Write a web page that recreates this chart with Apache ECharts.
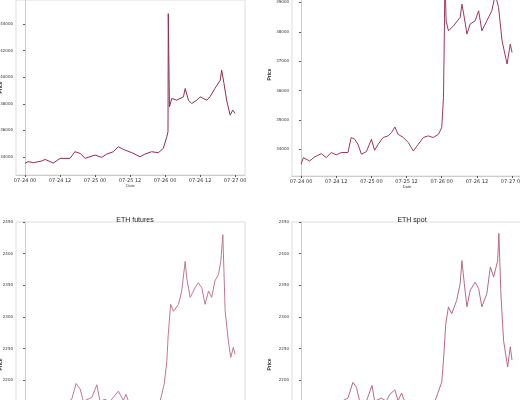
<!DOCTYPE html>
<html><head><meta charset="utf-8">
<script src="https://cdn.jsdelivr.net/npm/echarts@6/dist/echarts.min.js"></script>
<style>html,body{margin:0;padding:0;background:#fff;overflow:hidden;width:520px;height:400px}#c{position:absolute;left:0;top:-30px;width:520px;height:560px}</style>
</head><body><div id="c"></div>
<script>
const tickHours = [0,12,24,36,48,60,72];
const tickLabels = ["07-24 00","07-24 12","07-25 00","07-25 12","07-26 00","07-26 12","07-27 00"];
const yTicksBtcFut = [34000,36000,38000,40000,42000,44000];
const yTicksBtcSpot = [34000,35000,36000,37000,38000,39000];
const yTicksEth = [2050,2100,2150,2200,2250,2300,2350,2400,2450];

const btcFutH = [0,1,2.9,5.7,6.9,9.7,12,15.4,17.1,18.9,20.6,24,24.6,26.3,28,30.3,32,33.7,36.6,39.4,41.1,43.4,45.7,47.4,48.6,49,49.1,49.5,50.3,52,54.3,54.9,56,57.1,58.9,60,61.1,62.3,63.4,65.1,66.9,67.4,68.2,69.1,70.3,71.2,72];
const btcFutV = [33525,33650,33580,33700,33820,33550,33900,33900,34400,34270,33900,34150,34270,33975,34225,34400,34775,34575,34325,34025,34225,34400,34325,34650,35525,35900,44775,37775,38400,38275,38525,39150,38275,38025,38275,38525,38400,38275,38525,39150,39775,40525,39525,38275,37150,37525,37275];

const btcSpotH = [0,0.8,2.9,4.6,6.9,8.6,10.3,12,13.7,16,17.1,18.3,19.4,20.6,22.3,24,25.1,26.3,28,29.7,30.9,32,33.1,34.9,36.6,38.3,40,41.7,43.4,45.1,46.9,48,48.6,48.9,49.1,49.5,50.3,52,54.3,54.9,55.7,56.6,57.7,59.4,60.6,61.7,63.4,65.1,66.3,67.4,68.6,70.3,71.4,72];
const btcSpotV = [33490,33715,33600,33740,33850,33715,33890,33810,33890,33890,34400,34340,34170,33830,33920,34340,33965,34170,34400,34455,34570,34760,34510,34400,34230,33940,34170,34400,34455,34400,34510,34740,35760,37920,39900,38375,38030,38200,38490,38940,38490,37920,38260,38375,38715,38030,38375,38715,39280,38830,37690,36900,37580,37300];

const ethFutH = [0,3,6,9,12,14.9,16,17.5,18.9,20,22.9,24.6,25.7,27.4,29,32,33.7,34.6,36,38,40,42,44,46.3,47.7,48.6,49.1,49.9,50.9,52.6,53.7,54.9,55.4,56.6,58.3,59.4,60.6,61.7,62.9,64,65.1,66.3,67.1,67.8,68.6,69.7,70.5,71.4,72];
const ethFutV = [2150,2158,2145,2160,2155,2167,2170,2195,2186,2167,2173,2193,2167,2170,2166,2183,2168,2178,2160,2155,2150,2158,2162,2167,2194,2230,2273,2320,2309,2320,2341,2388,2362,2331,2346,2354,2346,2320,2341,2331,2357,2367,2388,2430,2309,2262,2236,2252,2241];

const ethSpotH = [0,3,6,9,12,14.3,16,17.7,18.9,20,22.3,24.2,25.1,27.4,29.1,30.3,32,33.1,34.3,35.4,38,41,44,45.7,48,48.6,49.4,50.3,51.4,53.1,54.3,54.9,55.7,56.6,57.7,59.4,60.6,61.7,63.4,64.6,65.7,67.1,67.5,68.2,69.1,70.5,71.4,72];
const ethSpotV = [2148,2156,2143,2158,2153,2168,2172,2197,2189,2167,2167,2192,2167,2172,2167,2178,2185,2168,2180,2166,2155,2150,2158,2167,2197,2232,2290,2316,2305,2326,2353,2389,2353,2316,2342,2355,2345,2316,2337,2379,2363,2389,2432,2337,2263,2221,2253,2232];

const pairs = (h,v)=>h.map((x,i)=>[x,v[i]]);
const lab = {fontSize:5,color:'#333',fontFamily:'DejaVu Sans'};
const OFF = 30;
const grids = [
  {left:16,width:229,top:OFF+0,height:175},
  {left:292,width:230,top:OFF-27,height:203},
  {left:16,width:229,top:OFF+222,height:285},
  {left:292,width:230,top:OFF+222,height:285}
];
const yRanges = [[32650,45800],[33090,40000],[2000,2450],[2000,2450]];
const yTicks = [yTicksBtcFut,yTicksBtcSpot,yTicksEth,yTicksEth];
function xAxis(i){return {type:'value',gridIndex:i,min:-3.1,max:75.4,
  axisLine:{show:true,lineStyle:{color:'#ccc'}},splitLine:{show:false},
  axisTick:{show:true,customValues:tickHours,length:2,lineStyle:{color:'#555'}},
  axisLabel:Object.assign({},lab,{customValues:tickHours,margin:3,formatter:v=>tickLabels[tickHours.indexOf(v)]}),
  name:'Date',nameLocation:'middle',nameGap:9,nameMoveOverlap:false,nameTextStyle:{fontSize:4,color:'#333'}};}
function yAxis(i){return {type:'value',gridIndex:i,min:yRanges[i][0],max:yRanges[i][1],
  axisLine:{show:true,lineStyle:{color:'#ccc'}},splitLine:{show:false},
  axisTick:{show:true,customValues:yTicks[i],length:2,lineStyle:{color:'#555'}},
  axisLabel:Object.assign({},lab,{fontSize:4,margin:3,customValues:yTicks[i],formatter:v=>String(v)}),
  name:'Price',nameLocation:'middle',nameGap:i%2?20:13,nameMoveOverlap:false,nameTextStyle:{fontSize:5,color:'#333',fontWeight:'bold'}};}
const cols=['#8e2f4c','#9a3a58','#c07890','#b86a84'];
const datas=[pairs(btcFutH,btcFutV),pairs(btcSpotH,btcSpotV),pairs(ethFutH,ethFutV),pairs(ethSpotH,ethSpotV)];
const chart = echarts.init(document.getElementById('c'));
chart.setOption({
  animation:false,
  title:[{text:'ETH futures',left:130,top:OFF+212,textAlign:'center',textStyle:{fontSize:7,fontWeight:'normal',color:'#222'}},
         {text:'ETH spot',left:407,top:OFF+212,textAlign:'center',textStyle:{fontSize:7,fontWeight:'normal',color:'#222'}}],
  grid:grids.map(g=>Object.assign({show:true,borderColor:'#ddd',borderWidth:1,outerBoundsMode:'none'},g)),
  xAxis:[0,1,2,3].map(xAxis),
  yAxis:[0,1,2,3].map(yAxis),
  series:datas.map((d,i)=>({type:'line',xAxisIndex:i,yAxisIndex:i,data:d,symbol:'none',lineStyle:{width:1,color:cols[i]}}))
});
</script></body></html>
